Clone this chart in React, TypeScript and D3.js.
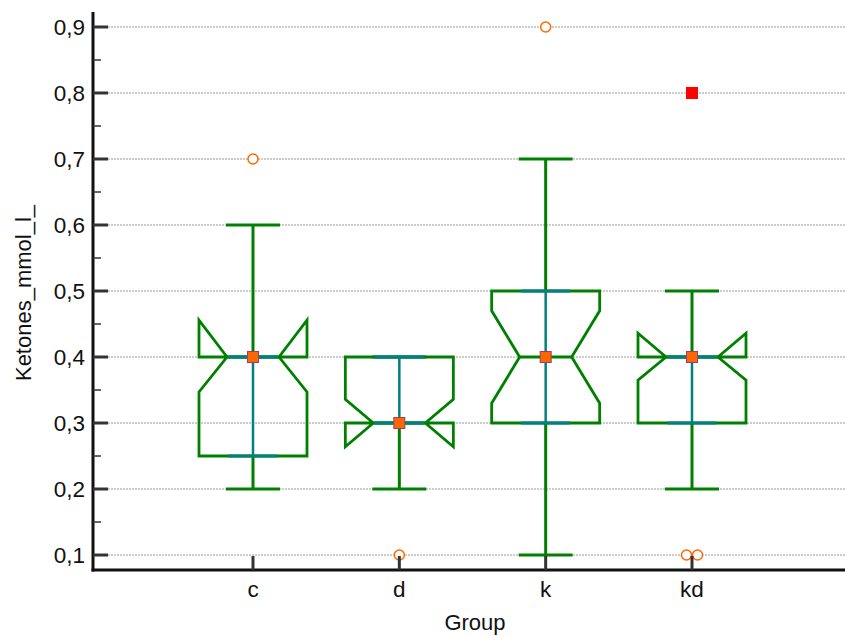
import React, { useEffect, useRef } from 'react';
import * as d3 from 'd3';

// group names and box statistics
const groups = ['c', 'd', 'k', 'kd'];
const q1 = [0.25, 0.3, 0.3, 0.3];
const medians = [0.4, 0.3, 0.4, 0.4];
const q3 = [0.4, 0.4, 0.5, 0.4];
const whiskerLow = [0.2, 0.2, 0.1, 0.2];
const whiskerHigh = [0.6, 0.4, 0.7, 0.5];
const notchLow = [0.347, 0.264, 0.33, 0.365];
const notchHigh = [0.456, 0.336, 0.47, 0.436];

// outside values: group, value, side offset (-1/0/1), far out?
const outGroup = ['c', 'd', 'k', 'kd', 'kd', 'kd'];
const outValue = [0.7, 0.1, 0.9, 0.1, 0.1, 0.8];
const outOffset = [0, 0, 0, -1, 1, 0];
const outFar = [false, false, false, false, false, true];

const yTicks = [0.1, 0.2, 0.3, 0.4, 0.5, 0.6, 0.7, 0.8, 0.9];
const yMinorTicks = [0.15, 0.25, 0.35, 0.45, 0.55, 0.65, 0.75, 0.85];

const xName = 'Group';
const yName = 'Ketones_mmol_l_';

const W = 845;
const H = 636;
const FONT = '"Liberation Sans", Arial, sans-serif';

const App = () => {
  const svgRef = useRef<SVGSVGElement>(null);

  useEffect(() => {
    const svg = d3.select(svgRef.current);
    svg.selectAll('*').remove();

    const left = 93;
    const right = 845;
    const bottom = 570;
    const top = 12;

    const y = d3.scaleLinear().domain([0.0773, 0.9227]).range([bottom, top]);
    const x = d3.scalePoint<string>().domain(groups).range([253, 692]);

    const boxW = 54;
    const notchW = 26;
    const capW = 27;
    const tealW = 24.5;

    const green = '#008000';
    const teal = '#008080';
    const orange = '#ff6600';

    // gridlines
    svg.append('g')
      .selectAll('line')
      .data(yTicks)
      .enter()
      .append('line')
      .attr('x1', left + 15)
      .attr('x2', right)
      .attr('y1', d => y(d))
      .attr('y2', d => y(d))
      .attr('stroke', '#999')
      .attr('stroke-width', 1)
      .attr('stroke-dasharray', '2,1');

    // boxes
    groups.forEach((g, i) => {
      const cx = x(g) as number;
      const pts: [number, number][] = [
        [cx - boxW, y(q3[i])],
        [cx - boxW, y(notchHigh[i])],
        [cx - notchW, y(medians[i])],
        [cx - boxW, y(notchLow[i])],
        [cx - boxW, y(q1[i])],
        [cx + boxW, y(q1[i])],
        [cx + boxW, y(notchLow[i])],
        [cx + notchW, y(medians[i])],
        [cx + boxW, y(notchHigh[i])],
        [cx + boxW, y(q3[i])],
      ];
      const box = svg.append('g');

      // whiskers
      box.append('line')
        .attr('x1', cx).attr('x2', cx)
        .attr('y1', y(whiskerHigh[i])).attr('y2', y(q3[i]))
        .attr('stroke', green).attr('stroke-width', 3);
      box.append('line')
        .attr('x1', cx).attr('x2', cx)
        .attr('y1', y(q1[i])).attr('y2', y(whiskerLow[i]))
        .attr('stroke', green).attr('stroke-width', 3);
      [whiskerHigh[i], whiskerLow[i]].forEach(v => {
        box.append('line')
          .attr('x1', cx - capW).attr('x2', cx + capW)
          .attr('y1', y(v)).attr('y2', y(v))
          .attr('stroke', green).attr('stroke-width', 3);
      });

      box.append('path')
        .attr('d', d3.line()(pts) + 'Z')
        .attr('fill', 'none')
        .attr('stroke', green)
        .attr('stroke-width', 2.8)
        .attr('stroke-linejoin', 'miter');

      box.append('line')
        .attr('x1', cx - notchW).attr('x2', cx + notchW)
        .attr('y1', y(medians[i])).attr('y2', y(medians[i]))
        .attr('stroke', green).attr('stroke-width', 2.8);

      // teal inner lines
      box.append('line')
        .attr('x1', cx).attr('x2', cx)
        .attr('y1', y(q3[i])).attr('y2', y(q1[i]))
        .attr('stroke', teal).attr('stroke-width', 2.5);
      [q1[i], q3[i]].forEach(v => {
        box.append('line')
          .attr('x1', cx - tealW).attr('x2', cx + tealW)
          .attr('y1', y(v)).attr('y2', y(v))
          .attr('stroke', teal).attr('stroke-width', 2.8);
      });

      // median marker
      box.append('rect')
        .attr('x', cx - 5.5).attr('y', y(medians[i]) - 5.5)
        .attr('width', 11).attr('height', 11)
        .attr('fill', orange)
        .attr('stroke', '#a03c6e')
        .attr('stroke-width', 1);
    });

    // outside values
    outGroup.forEach((g, i) => {
      const cx = (x(g) as number) + outOffset[i] * 5.5;
      const cy = y(outValue[i]);
      if (outFar[i]) {
        svg.append('rect')
          .attr('x', cx - 6).attr('y', cy - 6)
          .attr('width', 12).attr('height', 12)
          .attr('fill', '#ff0000');
      } else {
        svg.append('circle')
          .attr('cx', cx).attr('cy', cy).attr('r', 5)
          .attr('fill', 'white')
          .attr('stroke', orange)
          .attr('stroke-width', 1.5);
      }
    });

    // y axis
    svg.append('line')
      .attr('x1', left).attr('x2', left)
      .attr('y1', top).attr('y2', bottom + 1.5)
      .attr('stroke', '#111').attr('stroke-width', 3);
    svg.append('g')
      .selectAll('line')
      .data(yTicks)
      .enter()
      .append('line')
      .attr('x1', left).attr('x2', left + 15)
      .attr('y1', d => y(d)).attr('y2', d => y(d))
      .attr('stroke', '#333').attr('stroke-width', 3);
    svg.append('g')
      .selectAll('line')
      .data(yMinorTicks)
      .enter()
      .append('line')
      .attr('x1', left).attr('x2', left + 8)
      .attr('y1', d => y(d)).attr('y2', d => y(d))
      .attr('stroke', '#333').attr('stroke-width', 1.5);
    const fmt = d3.format('.1f');
    svg.append('g')
      .selectAll('text')
      .data(yTicks)
      .enter()
      .append('text')
      .attr('x', left - 8)
      .attr('y', d => y(d))
      .attr('dy', '0.35em')
      .attr('text-anchor', 'end')
      .attr('font-family', FONT)
      .attr('font-size', '22.5px')
      .attr('fill', '#111')
      .text(d => fmt(d).replace('.', ','));

    // x axis
    svg.append('line')
      .attr('x1', left - 1.5).attr('x2', right)
      .attr('y1', bottom).attr('y2', bottom)
      .attr('stroke', '#111').attr('stroke-width', 3);
    svg.append('g')
      .selectAll('line')
      .data(groups)
      .enter()
      .append('line')
      .attr('x1', d => x(d) as number).attr('x2', d => x(d) as number)
      .attr('y1', bottom - 14).attr('y2', bottom)
      .attr('stroke', '#333').attr('stroke-width', 3);
    svg.append('g')
      .selectAll('text')
      .data(groups)
      .enter()
      .append('text')
      .attr('x', d => x(d) as number)
      .attr('y', 597)
      .attr('text-anchor', 'middle')
      .attr('font-family', FONT)
      .attr('font-size', '22.5px')
      .attr('fill', '#111')
      .text(d => d);

    // axis titles
    svg.append('text')
      .attr('x', 475)
      .attr('y', 630)
      .attr('text-anchor', 'middle')
      .attr('font-family', FONT)
      .attr('font-size', '22px')
      .attr('fill', '#111')
      .text(xName);
    svg.append('text')
      .attr('transform', 'translate(31, 293) rotate(-90)')
      .attr('text-anchor', 'middle')
      .attr('font-family', FONT)
      .attr('font-size', '22px')
      .attr('fill', '#111')
      .text(yName);
  }, []);

  return (
    <div style={{ position: 'absolute', left: 0, top: 0 }}>
      <svg ref={svgRef} width={W} height={H} style={{ display: 'block' }}></svg>
    </div>
  );
};

export default App;
